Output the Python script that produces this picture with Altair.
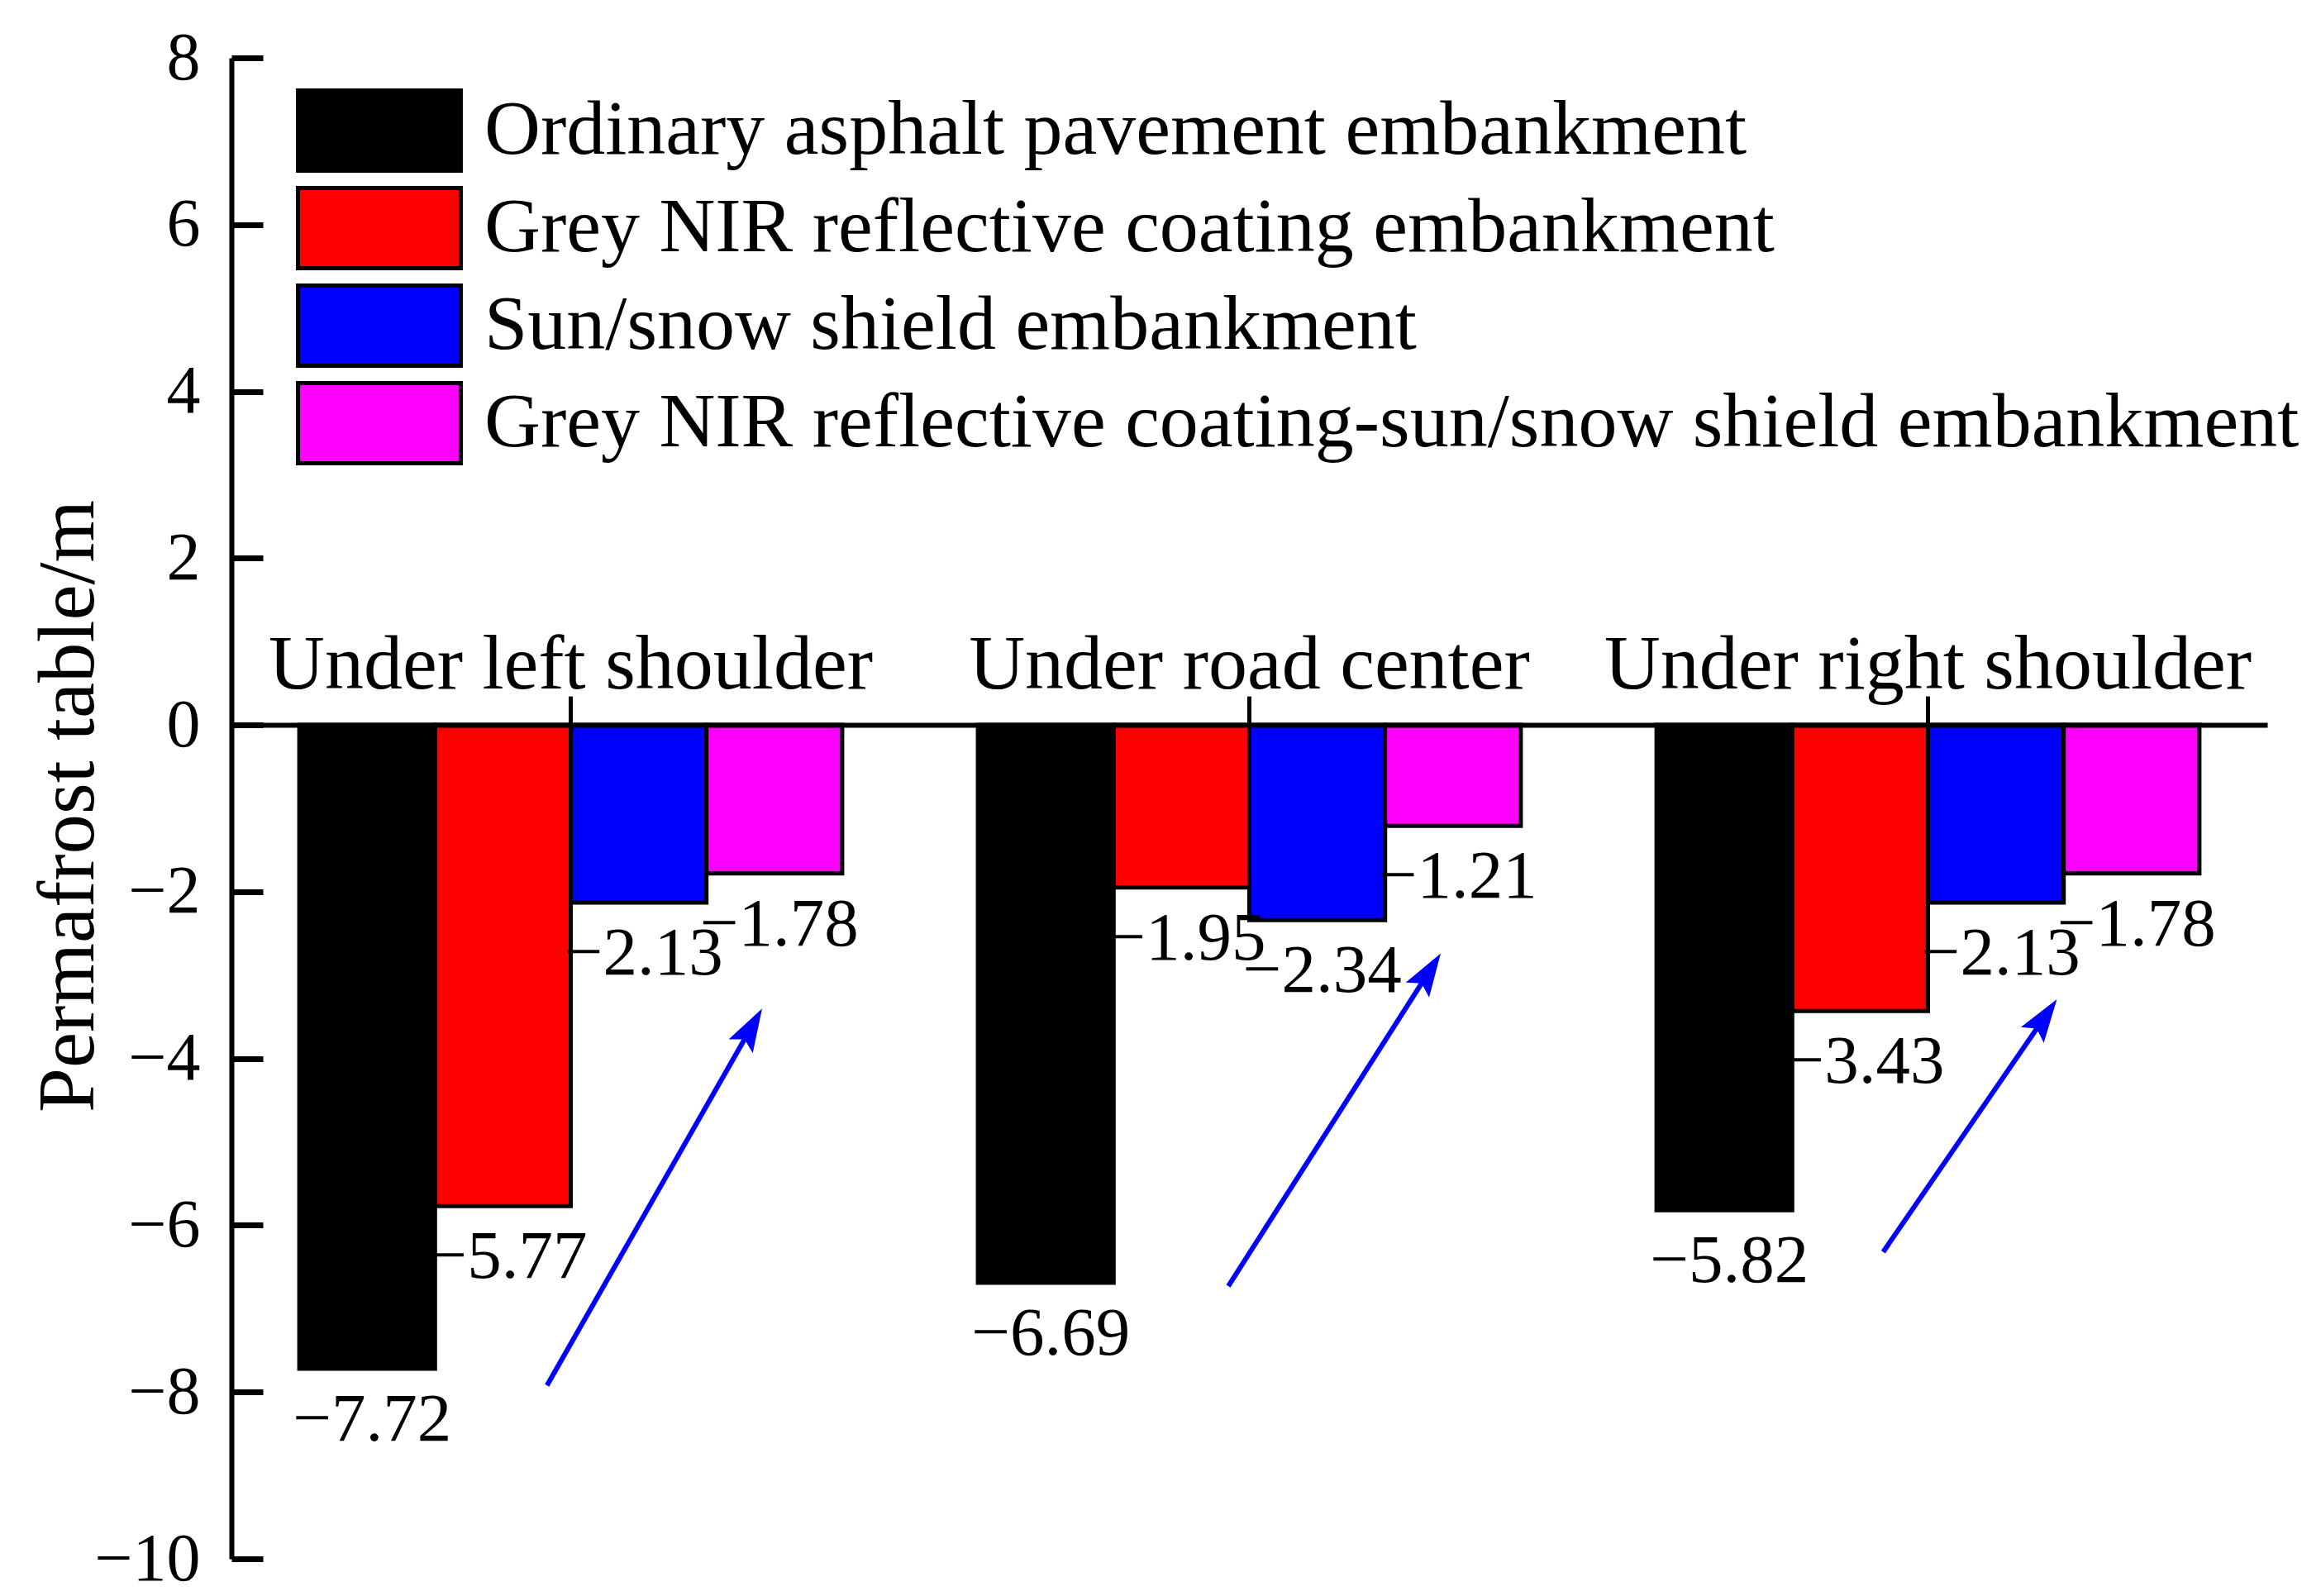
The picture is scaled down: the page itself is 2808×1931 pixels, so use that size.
import altair as alt
import pandas as pd

FONT = "Liberation Serif"

categories = ["Under left shoulder", "Under road center", "Under right shoulder"]
series = [
    "Ordinary asphalt pavement embankment",
    "Grey NIR reflective coating embankment",
    "Sun/snow shield embankment",
    "Grey NIR reflective coating-sun/snow shield embankment",
]
colors = ["#000000", "#FF0000", "#0000FF", "#FF00FF"]

ordinary = [-7.72, -6.69, -5.82]
grey_nir = [-5.77, -1.95, -3.43]
sun_snow = [-2.13, -2.34, -2.13]
combined = [-1.78, -1.21, -1.78]

y_ticks = [-10, -8, -6, -4, -2, 0, 2, 4, 6, 8]

# arrow annotations, in data units (x: category index 0..3, y: metres)
arrow_x_start = [0.465, 1.469, 2.434]
arrow_y_start = [-7.92, -6.73, -6.32]
arrow_x_end = [0.782, 1.782, 2.690]
arrow_y_end = [-3.40, -2.74, -3.29]
arrow_angle = [29.6, 32.5, 34.5]

W, H = 2463, 1816

rows = []
for s, vals in zip(series, [ordinary, grey_nir, sun_snow, combined]):
    for c, v in zip(categories, vals):
        rows.append({"cat": c, "series": s, "value": v})
df = pd.DataFrame(rows)

adf = pd.DataFrame({
    "x0": arrow_x_start, "y0": arrow_y_start,
    "x1": arrow_x_end, "y1": arrow_y_end, "angle": arrow_angle,
})
adf["xl"] = adf["x0"] + 0.93 * (adf["x1"] - adf["x0"])
adf["yl"] = adf["y0"] + 0.93 * (adf["y1"] - adf["y0"])

yscale = alt.Scale(domain=[-10, 8], nice=False, zero=False)
xscale = alt.Scale(domain=categories, paddingInner=0.2, paddingOuter=0.1)
oscale = alt.Scale(domain=series, paddingInner=0, paddingOuter=0)

x_axis = alt.Axis(
    orient="top", offset=-(H * 8 / 18), domain=True, domainColor="black",
    domainWidth=6, ticks=True, tickSize=35, tickWidth=5, tickColor="black",
    labelFont=FONT, labelFontSize=94, labelColor="black", labelPadding=10,
    labelBaseline="alphabetic", labelAngle=0, labelOverlap=False, labelLimit=3000,
    title=None, grid=False, zindex=2,
)
y_axis = alt.Axis(
    orient="left", values=y_ticks, ticks=False, tickSize=0, labelPadding=38,
    labelFont=FONT, labelFontSize=82, labelColor="black", labelFlush=False,
    labelOverlap=False, domain=True, domainColor="black", domainWidth=6,
    grid=False, title="Permafrost table/m", titleFont=FONT, titleFontSize=97,
    titleFontWeight="normal", titleColor="black", titleAngle=270, titleX=-168,
    titleY=905, titleAlign="center", titleBaseline="alphabetic", zindex=2,
)

legend = alt.Legend(
    orient="none", legendX=128, legendY=37, title=None,
    symbolType="M-2.03,-1L2.03,-1L2.03,1L-2.03,1Z", symbolSize=9409,
    symbolStrokeColor="black", symbolStrokeWidth=5, symbolOpacity=1,
    labelFont=FONT, labelFontSize=94, labelColor="black", labelOffset=76,
    rowPadding=0, padding=0, labelLimit=3000,
)

bars = alt.Chart(df).mark_bar(stroke="black", strokeWidth=5, opacity=1).encode(
    x=alt.X("cat:N", sort=categories, scale=xscale, axis=x_axis),
    xOffset=alt.XOffset("series:N", sort=series, scale=oscale),
    y=alt.Y("value:Q", scale=yscale, axis=y_axis, stack=None),
    color=alt.Color("series:N", sort=series,
                    scale=alt.Scale(domain=series, range=colors), legend=legend),
)

labels = alt.Chart(df).mark_text(
    font=FONT, fontSize=83, baseline="alphabetic", align="center",
    dx=6, dy=87, color="black",
).encode(
    x=alt.X("cat:N", sort=categories, scale=xscale, axis=x_axis),
    xOffset=alt.XOffset("series:N", sort=series, scale=oscale),
    y=alt.Y("value:Q", scale=yscale, axis=y_axis, stack=None),
    text=alt.Text("value:Q", format=".2f"),
)

inner = alt.layer(bars, labels)

ascale = alt.Scale(domain=[0, 3], nice=False, zero=False)
arrow_lines = alt.Chart(adf).mark_rule(color="#0000FF", strokeWidth=6).encode(
    x=alt.X("x0:Q", scale=ascale, axis=None),
    y=alt.Y("y0:Q", scale=yscale, axis=None),
    x2="xl:Q", y2="yl:Q",
)
arrow_heads = alt.Chart(adf).mark_point(
    shape="M0,0L0.32,1L0,0.82L-0.32,1Z", size=11000, filled=True,
    color="#0000FF", opacity=1,
).encode(
    x=alt.X("x1:Q", scale=ascale, axis=None),
    y=alt.Y("y1:Q", scale=yscale, axis=None),
    angle=alt.Angle("angle:Q", scale=None),
)

tick_axis = alt.Chart(df).mark_point(opacity=0).encode(
    y=alt.Y("value:Q", scale=yscale, stack=None, axis=alt.Axis(
        orient="right", offset=-W, values=y_ticks, ticks=True, tickSize=38,
        tickWidth=7, tickColor="black", labels=False, domain=False,
        grid=False, title=None, zindex=2)),
)

chart = alt.layer(inner, arrow_lines, arrow_heads, tick_axis).resolve_scale(
    x="independent", y="independent"
).properties(
    width=W, height=H,
    padding={"left": 272, "top": 62, "right": 57, "bottom": 45},
    autosize=alt.AutoSizeParams(type="none"),
    background="white",
).configure_view(stroke=None)

chart.save("out.html", embed_options={"renderer": "svg", "actions": False})
